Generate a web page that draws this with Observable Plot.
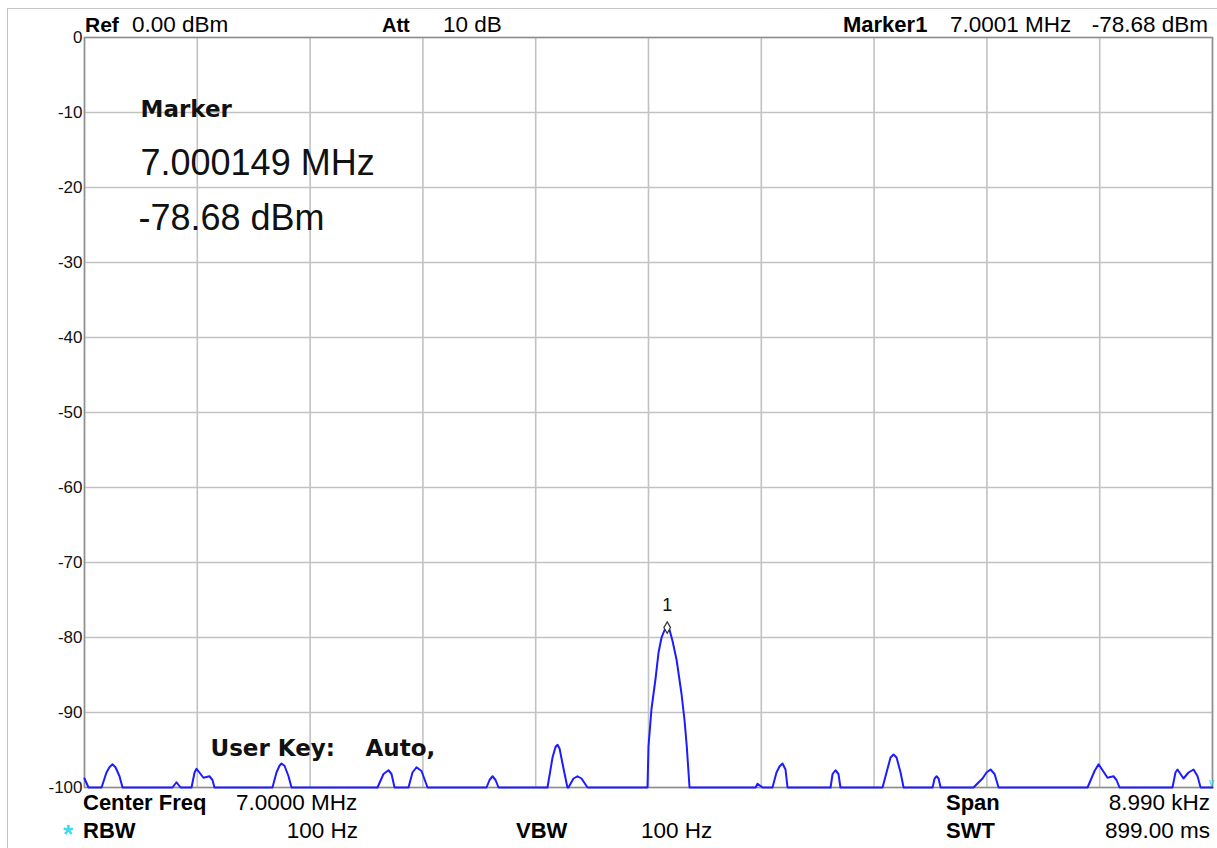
<!DOCTYPE html>
<html>
<head>
<meta charset="utf-8">
<script src="https://cdn.jsdelivr.net/npm/d3@7"></script>
<script src="https://cdn.jsdelivr.net/npm/@observablehq/plot@0.6"></script>
<style>
  html, body { margin: 0; padding: 0; background: #fff; }
  #wrap { position: relative; width: 1217px; height: 848px; overflow: hidden; font-family: "Liberation Sans", Arial, sans-serif; }
  #border { position: absolute; left: 7px; top: 8px; right: -2px; bottom: -2px; border-top: 1px solid #c4c4c4; border-left: 1px solid #c4c4c4; }
  .t { position: absolute; font-size: 22.5px; line-height: 22.5px; white-space: pre; color: #000; }
  .b { font-weight: bold; font-size: 22px; }
  #chart { position: absolute; left: 0; top: 0; }
</style>
</head>
<body>
<div id="wrap">
  <div id="border"></div>
  <div id="chart"></div>
  <span class="t b" style="left:85px;top:14px;font-size:21px">Ref</span>
  <span class="t" style="left:132px;top:14px">0.00 dBm</span>
  <span class="t b" style="left:382px;top:14px;font-size:20px">Att</span>
  <span class="t" style="left:443px;top:14px">10 dB</span>
  <span class="t b" style="left:843px;top:14px">Marker1</span>
  <span class="t" style="left:950px;top:14px">7.0001 MHz</span>
  <span class="t" style="right:9px;top:14px">-78.68 dBm</span>

  <span class="t b" style="left:83px;top:792px">Center Freq</span>
  <span class="t" style="left:236px;top:792px">7.0000 MHz</span>
  <span class="t b" style="left:946px;top:792px">Span</span>
  <span class="t" style="right:7px;top:792px">8.990 kHz</span>

  <span class="t b" style="left:63px;top:821px;font-size:26px;line-height:26px;color:#38dcee">*</span>
  <span class="t b" style="left:83px;top:820px">RBW</span>
  <span class="t" style="right:859px;top:820px">100 Hz</span>
  <span class="t b" style="left:516px;top:820px">VBW</span>
  <span class="t" style="left:641px;top:820px">100 Hz</span>
  <span class="t b" style="left:946px;top:820px">SWT</span>
  <span class="t" style="right:7px;top:820px">899.00 ms</span>
</div>
<script>
// Frequency offsets from the 7.0000 MHz centre (Hz) and trace level (dBm)
const freqHz = [
  -4495, -4463, -4359, -4320, -4296, -4272, -4248, -4216, -4192,
  -3794, -3762, -3730,
  -3642, -3618, -3602, -3547, -3499, -3475, -3459,
  -2997, -2965, -2941, -2925, -2901, -2869, -2845,
  -2160, -2112, -2072, -2048, -2024,
  -1913, -1881, -1849, -1809, -1761,
  -1291, -1267, -1243, -1219, -1195,
  -805, -765, -741, -725, -709, -677, -646,
  -638, -598, -566, -534, -486,
  -8, 0, 24, 56, 80, 104, 128, 149, 168, 192, 224, 263, 287, 305, 327,
  853, 869, 909,
  988, 1020, 1044, 1068, 1092, 1108,
  1451, 1467, 1490, 1514, 1530,
  1865, 1905, 1929, 1953, 1977, 2009, 2033,
  2264, 2280, 2296, 2312, 2328,
  2590, 2662, 2694, 2726, 2758, 2790,
  3499, 3555, 3587, 3619, 3658, 3706, 3730, 3754,
  4176, 4200, 4216, 4240, 4264, 4304, 4344, 4376, 4400,
  4495
];
const levelDbm = [
  -98.8, -100, -100, -98.0, -97.3, -96.9, -97.3, -98.5, -100,
  -100, -99.3, -100,
  -100, -98.0, -97.5, -98.7, -98.5, -99.0, -100,
  -100, -98.0, -97.1, -96.8, -97.1, -98.5, -100,
  -100, -98.2, -97.7, -98.2, -100,
  -100, -98.0, -97.3, -97.8, -100,
  -100, -99.0, -98.5, -99.0, -100,
  -100, -96.0, -94.6, -94.3, -94.8, -97.5, -100,
  -100, -98.8, -98.5, -98.8, -100,
  -100, -94.5, -89.5, -85.5, -82.0, -80.0, -79.0, -78.68, -79.0, -80.5, -83.0, -87.5, -91.0, -94.5, -100,
  -100, -99.5, -100,
  -100, -98.0, -97.2, -96.8, -97.6, -100,
  -100, -98.2, -97.7, -98.2, -100,
  -100, -97.5, -96.0, -95.6, -96.0, -98.0, -100,
  -100, -98.8, -98.5, -98.8, -100,
  -100, -98.8, -98.0, -97.6, -98.2, -100,
  -100, -97.8, -96.9, -97.7, -98.7, -98.5, -99.0, -100,
  -100, -98.0, -97.6, -98.2, -98.8, -98.0, -97.6, -98.5, -100,
  -100
];
const yTicks = [0, -10, -20, -30, -40, -50, -60, -70, -80, -90, -100];
const xGridHz = [-4495, -3596, -2697, -1798, -899, 0, 899, 1798, 2697, 3596, 4495];
const markerFreqHz = [149];
const markerLevel = [-78.68];
const markerLabel = ["1"];
const markerInfo = ["Marker", "7.000149 MHz", "-78.68 dBm"];
const userKey = ["User Key:", "Auto,"];

const trace = freqHz.map((f, i) => ({f, v: levelDbm[i]}));
const marker = markerFreqHz.map((f, i) => ({f, v: markerLevel[i], label: markerLabel[i]}));

const chart = Plot.plot({
  width: 1217,
  height: 848,
  marginLeft: 84,
  marginRight: 5,
  marginTop: 37,
  marginBottom: 61,
  style: {fontFamily: "'Liberation Sans', Arial, sans-serif", background: "transparent", overflow: "visible"},
  x: {domain: [-4495, 4495], axis: null},
  y: {domain: [-100, 0], axis: null},
  marks: [
    Plot.ruleX(xGridHz, {stroke: "#c2c2c2", strokeWidth: 1.6}),
    Plot.ruleY(yTicks, {stroke: "#c2c2c2", strokeWidth: 1.6}),
    Plot.frame({stroke: "#8e8e8e", strokeWidth: 1.5}),
    Plot.axisY(yTicks, {tickSize: 0, tickPadding: 2, fontSize: 17, fill: "#111", label: null, tickFormat: d => String(d)}),
    Plot.line(trace, {x: "f", y: "v", stroke: "#1c1cff", strokeWidth: 2}),
    Plot.dot(marker, {x: "f", y: "v", symbol: "diamond", r: 3.5, stroke: "#333", fill: "#fff", strokeWidth: 1.2}),
    Plot.text(marker, {x: "f", y: "v", text: "label", dy: -22, fontSize: 18, fill: "#111"}),
    Plot.text([markerInfo[0]], {frameAnchor: "top-left", dx: 56, dy: 72, textAnchor: "start", lineAnchor: "middle", fontSize: 23, fontWeight: "bold", fontFamily: "DejaVu Sans", fill: "#111"}),
    Plot.text([markerInfo[1]], {frameAnchor: "top-left", dx: 56, dy: 126, textAnchor: "start", lineAnchor: "middle", fontSize: 36, fill: "#111"}),
    Plot.text([markerInfo[2]], {frameAnchor: "top-left", dx: 54, dy: 181, textAnchor: "start", lineAnchor: "middle", fontSize: 36, fill: "#111"}),
    Plot.text([userKey[0]], {frameAnchor: "top-left", dx: 126, dy: 711, textAnchor: "start", lineAnchor: "middle", fontSize: 23, fontWeight: "bold", fontFamily: "DejaVu Sans", fill: "#111"}),
    Plot.text([userKey[1]], {frameAnchor: "top-left", dx: 281, dy: 711, textAnchor: "start", lineAnchor: "middle", fontSize: 23, fontWeight: "bold", fontFamily: "DejaVu Sans", fill: "#111"}),
    Plot.text(["v"], {frameAnchor: "bottom-right", dx: -1, dy: -5, textAnchor: "middle", lineAnchor: "middle", fontSize: 11, fill: "#22d8e8"})
  ]
});
document.getElementById("chart").appendChild(chart);
</script>
</body>
</html>
